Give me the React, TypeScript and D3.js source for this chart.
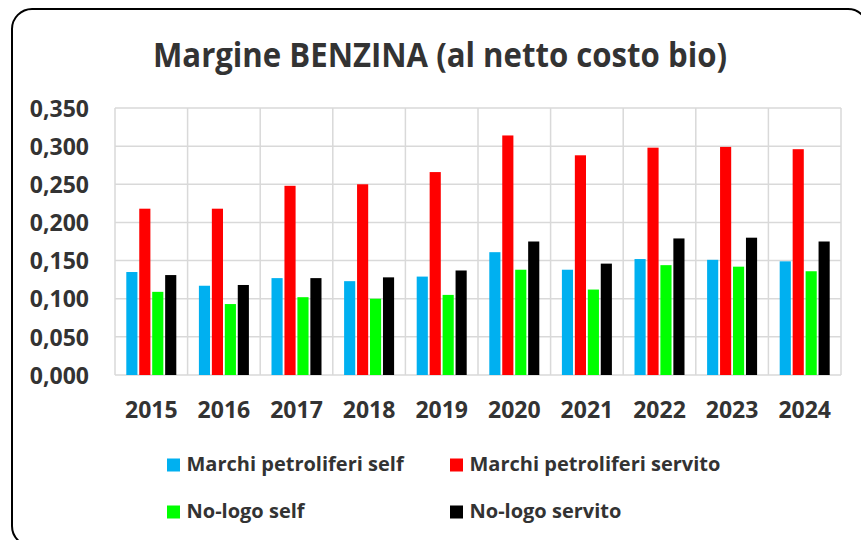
import React, { useRef, useEffect } from "react";
import * as d3 from "d3";

const years = ["2015", "2016", "2017", "2018", "2019", "2020", "2021", "2022", "2023", "2024"];
const seriesNames = [
  "Marchi petroliferi self",
  "Marchi petroliferi servito",
  "No-logo self",
  "No-logo servito",
];
const marchiSelf = [0.135, 0.117, 0.127, 0.123, 0.129, 0.161, 0.138, 0.152, 0.151, 0.149];
const marchiServito = [0.218, 0.218, 0.248, 0.25, 0.266, 0.314, 0.288, 0.298, 0.299, 0.296];
const noLogoSelf = [0.109, 0.093, 0.102, 0.1, 0.105, 0.138, 0.112, 0.144, 0.142, 0.136];
const noLogoServito = [0.131, 0.118, 0.127, 0.128, 0.137, 0.175, 0.146, 0.179, 0.18, 0.175];
const colors = ["#00b0f0", "#ff0000", "#00ff00", "#000000"];
const yTicks = [0, 0.05, 0.1, 0.15, 0.2, 0.25, 0.3, 0.35];

const FONT = "'Open Sans', sans-serif";
const TEXT = "#333333";

export default function App() {
  const ref = useRef<SVGSVGElement>(null);

  useEffect(() => {
    const width = 861;
    const height = 540;
    const margin = { top: 108, right: 20, bottom: 165, left: 115 };
    const innerW = 841 - margin.left;
    const innerH = height - margin.top - margin.bottom;

    const svg = d3.select(ref.current);
    svg.selectAll("*").remove();
    svg.attr("width", width).attr("height", height);

    // frame
    svg.append("rect")
      .attr("x", 12).attr("y", 9)
      .attr("width", 856).attr("height", 537)
      .attr("rx", 20)
      .attr("fill", "#fff")
      .attr("stroke", "#000")
      .attr("stroke-width", 2);

    svg.append("text")
      .attr("x", 440).attr("y", 67)
      .attr("text-anchor", "middle")
      .attr("font-family", FONT)
      .attr("font-weight", 700)
      .attr("font-size", 34)
      .attr("textLength", 574)
      .attr("lengthAdjust", "spacingAndGlyphs")
      .attr("fill", TEXT)
      .text("Margine BENZINA (al netto costo bio)");

    const data = years.map((y, i) => ({
      year: y,
      values: [marchiSelf[i], marchiServito[i], noLogoSelf[i], noLogoServito[i]],
    }));

    const chart = svg.append("g").attr("transform", `translate(${margin.left},${margin.top})`);

    const x0 = d3.scaleBand().domain(years).range([0, innerW]);
    const x1 = d3.scaleBand<number>()
      .domain([0, 1, 2, 3])
      .range([11.3, x0.bandwidth() - 11.3])
      .paddingInner(0.14);
    const y = d3.scaleLinear().domain([0, 0.35]).range([innerH, 0]);

    const fmt = d3.formatLocale({ decimal: ",", thousands: ".", grouping: [3], currency: ["", "€"] }).format(".3f");

    // grid
    chart.append("g")
      .selectAll("line")
      .data(yTicks)
      .join("line")
      .attr("x1", 0).attr("x2", innerW)
      .attr("y1", d => y(d)).attr("y2", d => y(d))
      .attr("stroke", "#d9d9d9").attr("stroke-width", 1.5);

    chart.append("g")
      .selectAll("line")
      .data(d3.range(years.length + 1))
      .join("line")
      .attr("x1", i => i * x0.step()).attr("x2", i => i * x0.step())
      .attr("y1", 0).attr("y2", innerH)
      .attr("stroke", "#d9d9d9").attr("stroke-width", 1.5);

    // bars
    chart.append("g")
      .selectAll("g")
      .data(data)
      .join("g")
      .attr("transform", d => `translate(${x0(d.year)},0)`)
      .selectAll("rect")
      .data(d => d.values.map((v, k) => ({ v, k })))
      .join("rect")
      .attr("x", d => x1(d.k)!)
      .attr("width", x1.bandwidth())
      .attr("y", d => y(d.v))
      .attr("height", d => innerH - y(d.v))
      .attr("fill", d => colors[d.k]);

    // y axis labels
    chart.append("g")
      .call(d3.axisLeft(y).tickValues(yTicks).tickFormat(d => fmt(d as number)).tickSize(0).tickPadding(26))
      .call(g => g.select(".domain").remove())
      .selectAll("text")
      .attr("font-family", FONT)
      .attr("font-weight", 700)
      .attr("font-size", 23)
      .attr("fill", TEXT)
      .attr("dy", "0.36em");

    // x axis labels
    chart.append("g")
      .attr("transform", `translate(0,${innerH})`)
      .call(d3.axisBottom(x0).tickSize(0).tickPadding(43))
      .call(g => g.select(".domain").remove())
      .selectAll("text")
      .attr("font-family", FONT)
      .attr("font-weight", 700)
      .attr("font-size", 23)
      .attr("fill", TEXT)
      .attr("dy", 0);

    // legend
    const legendPos = [
      { x: 167, y: 471 },
      { x: 450, y: 471 },
      { x: 167, y: 518 },
      { x: 450, y: 518 },
    ];
    const legend = svg.append("g")
      .selectAll("g")
      .data(seriesNames)
      .join("g")
      .attr("transform", (_, i) => `translate(${legendPos[i].x},${legendPos[i].y})`);
    legend.append("rect")
      .attr("x", 0).attr("y", -12.5)
      .attr("width", 13).attr("height", 13)
      .attr("fill", (_, i) => colors[i]);
    legend.append("text")
      .attr("x", 19.5).attr("y", 0)
      .attr("font-family", FONT)
      .attr("font-weight", 700)
      .attr("font-size", 20)
      .attr("fill", TEXT)
      .text(d => d);
  }, []);

  return (
    <svg ref={ref} style={{ position: "absolute", left: 0, top: 0, display: "block" }}></svg>
  );
}
